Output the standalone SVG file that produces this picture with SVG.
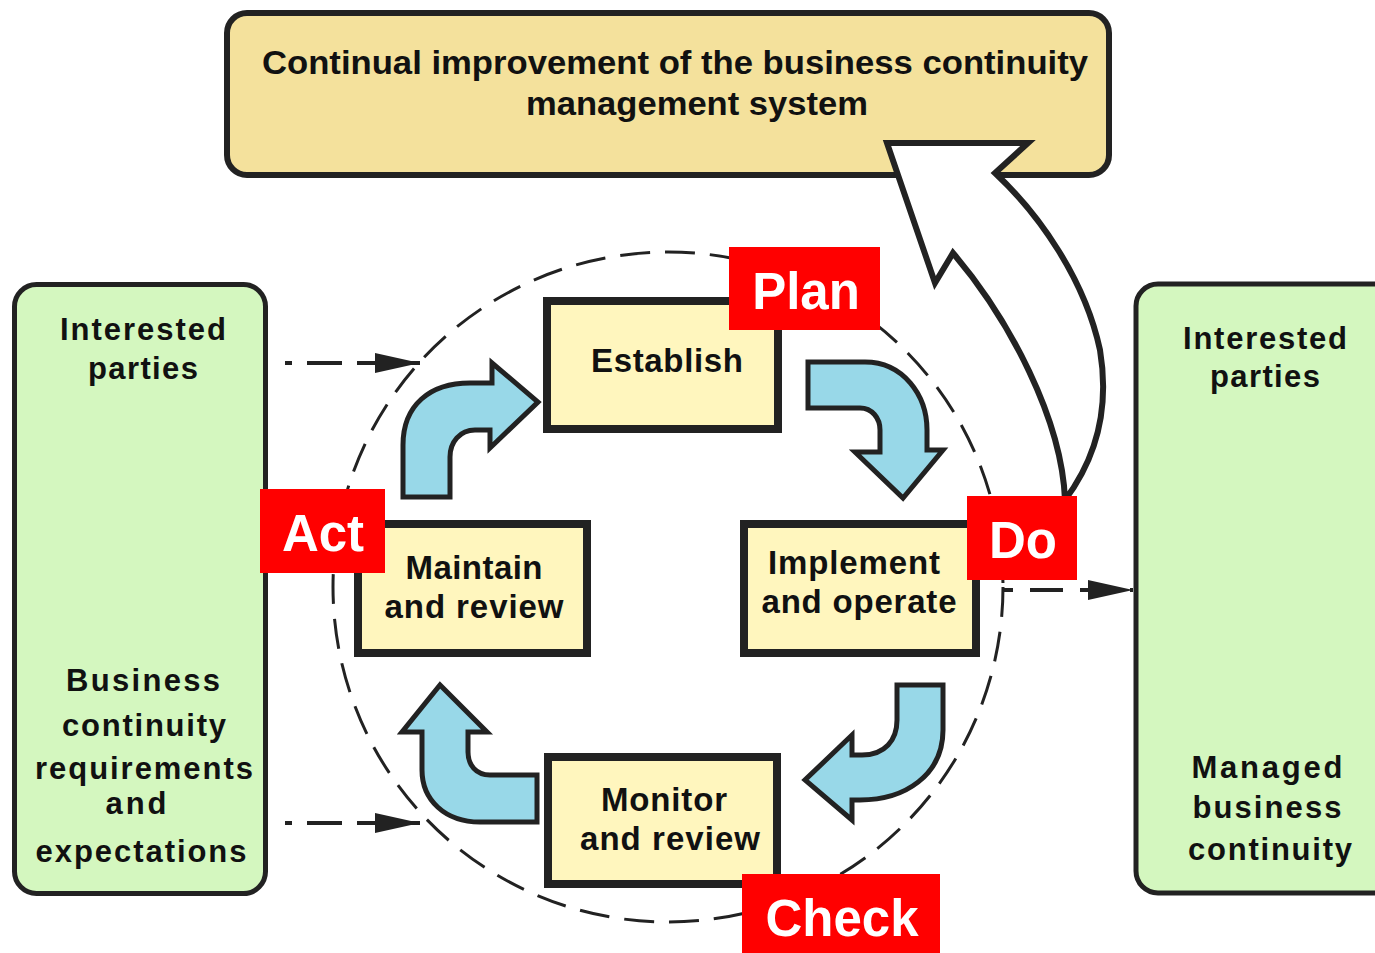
<svg xmlns="http://www.w3.org/2000/svg" width="1375" height="953" viewBox="0 0 1375 953">
<style>
  text { font-family: "Liberation Sans", Arial, Helvetica, sans-serif; font-weight: bold; fill: #111; text-anchor: middle; }
  .big { font-size: 34px; }
  .side { font-size: 31px; }
  .step { font-size: 33px; }
  .pdca { font-size: 51px; fill: #fff; }
  .green { fill: #d4f7bf; stroke: #222; stroke-width: 5; }
  .step-box { fill: #fff6be; stroke: #222; stroke-width: 8; }
  .flow { fill: #98d8e8; stroke: #222; stroke-width: 5; stroke-linejoin: miter; }
  .red { fill: #ff0000; }
  .dash { fill: none; stroke: #222; stroke-width: 4; stroke-dasharray: 35 15; stroke-dashoffset: 28; }
</style>
<defs>
  <marker id="head" markerUnits="userSpaceOnUse" markerWidth="46" markerHeight="22" refX="45" refY="10" orient="auto">
    <path d="M0,0 L45,10 L0,20 Z" fill="#222"/>
  </marker>
</defs>
<rect width="1375" height="953" fill="#fff"/>

<g id="improvement">
  <rect x="227" y="13" width="882" height="162" rx="20" fill="#f4e19c" stroke="#222" stroke-width="6"/>
  <text class="big" x="675" y="74" textLength="826" lengthAdjust="spacingAndGlyphs">Continual improvement of the business continuity</text>
  <text class="big" x="697" y="115" textLength="342" lengthAdjust="spacingAndGlyphs">management system</text>
</g>

<g id="inputs">
  <rect class="green" x="14.5" y="284.5" width="251" height="609" rx="22"/>
  <text class="side" x="143" y="340" textLength="166">Interested</text>
  <text class="side" x="143" y="379" textLength="110">parties</text>
  <text class="side" x="143" y="691" textLength="154">Business</text>
  <text class="side" x="144" y="736" textLength="164">continuity</text>
  <text class="side" x="144" y="779" textLength="218">requirements</text>
  <text class="side" x="136" y="814" textLength="61">and</text>
  <text class="side" x="141" y="862" textLength="211">expectations</text>
</g>

<g id="outputs">
  <rect class="green" x="1136" y="284" width="262" height="609" rx="22"/>
  <text class="side" x="1265" y="349" textLength="164">Interested</text>
  <text class="side" x="1265" y="387" textLength="110">parties</text>
  <text class="side" x="1267" y="778" textLength="151">Managed</text>
  <text class="side" x="1267" y="818" textLength="149">business</text>
  <text class="side" x="1270" y="860" textLength="164">continuity</text>
</g>

<g id="connectors">
  <circle cx="668" cy="587" r="335" fill="none" stroke="#222" stroke-width="3" stroke-dasharray="30 15"/>
  <line class="dash" x1="285" y1="363" x2="420" y2="363" marker-end="url(#head)"/>
  <line class="dash" x1="285" y1="823" x2="420" y2="823" marker-end="url(#head)"/>
  <line class="dash" x1="1003" y1="590" x2="1133" y2="590" style="stroke-dasharray:33 17;stroke-dashoffset:23" marker-end="url(#head)"/>
  <path class="flow" d="M403,497 L403,445 C403,405 430,383 470,383 L492,383 L492,363 L538,402 L490,448 L490,430 L475,430 C460,430 450,442 450,457 L450,497 Z"/>
  <path class="flow" d="M808,362 L865,362 C903,362 927,395 927,430 L927,450 L943,450 L903,498 L855,452 L880,452 L880,430 C880,418 872,408 860,408 L808,408 Z"/>
  <path class="flow" d="M897,685 L943,685 L943,730 C943,775 905,800 860,800 L852,800 L852,820 L805,780 L852,735 L852,755 L862,755 C885,755 897,740 897,720 Z"/>
  <path class="flow" d="M537,775 L490,775 C476,775 468,765 468,752 L468,732 L487,732 L440,685 L402,732 L422,732 L422,770 C422,800 445,822 480,822 L537,822 Z"/>
  <path d="M887,143 L1028,143 L995,173 C1040,215 1085,280 1100,350 C1110,410 1095,460 1065,500 C1062,420 1010,320 953,253 L935,283 Z" fill="#fff" stroke="#222" stroke-width="6" stroke-linejoin="miter"/>
</g>

<g id="establish">
  <rect class="step-box" x="547" y="301" width="231" height="128"/>
  <text class="step" x="667" y="372" textLength="152">Establish</text>
</g>
<g id="maintain">
  <rect class="step-box" x="358" y="524" width="229" height="129"/>
  <text class="step" x="474" y="579" textLength="137">Maintain</text>
  <text class="step" x="474" y="618" textLength="179">and review</text>
</g>
<g id="implement">
  <rect class="step-box" x="744" y="524" width="232" height="129"/>
  <text class="step" x="854" y="574" textLength="172">Implement</text>
  <text class="step" x="859" y="613" textLength="195">and operate</text>
</g>
<g id="monitor">
  <rect class="step-box" x="548" y="757" width="229" height="127"/>
  <text class="step" x="664" y="811" textLength="126">Monitor</text>
  <text class="step" x="670" y="850" textLength="180">and review</text>
</g>

<g id="plan">
  <rect class="red" x="729" y="247" width="151" height="83"/>
  <text class="pdca" x="806" y="309">Plan</text>
</g>
<g id="act">
  <rect class="red" x="260" y="489" width="125" height="84"/>
  <text class="pdca" x="323" y="551">Act</text>
</g>
<g id="do">
  <rect class="red" x="967" y="496" width="110" height="84"/>
  <text class="pdca" x="1023" y="558">Do</text>
</g>
<g id="check">
  <rect class="red" x="742" y="874" width="198" height="79"/>
  <text class="pdca" x="842" y="936">Check</text>
</g>
</svg>
